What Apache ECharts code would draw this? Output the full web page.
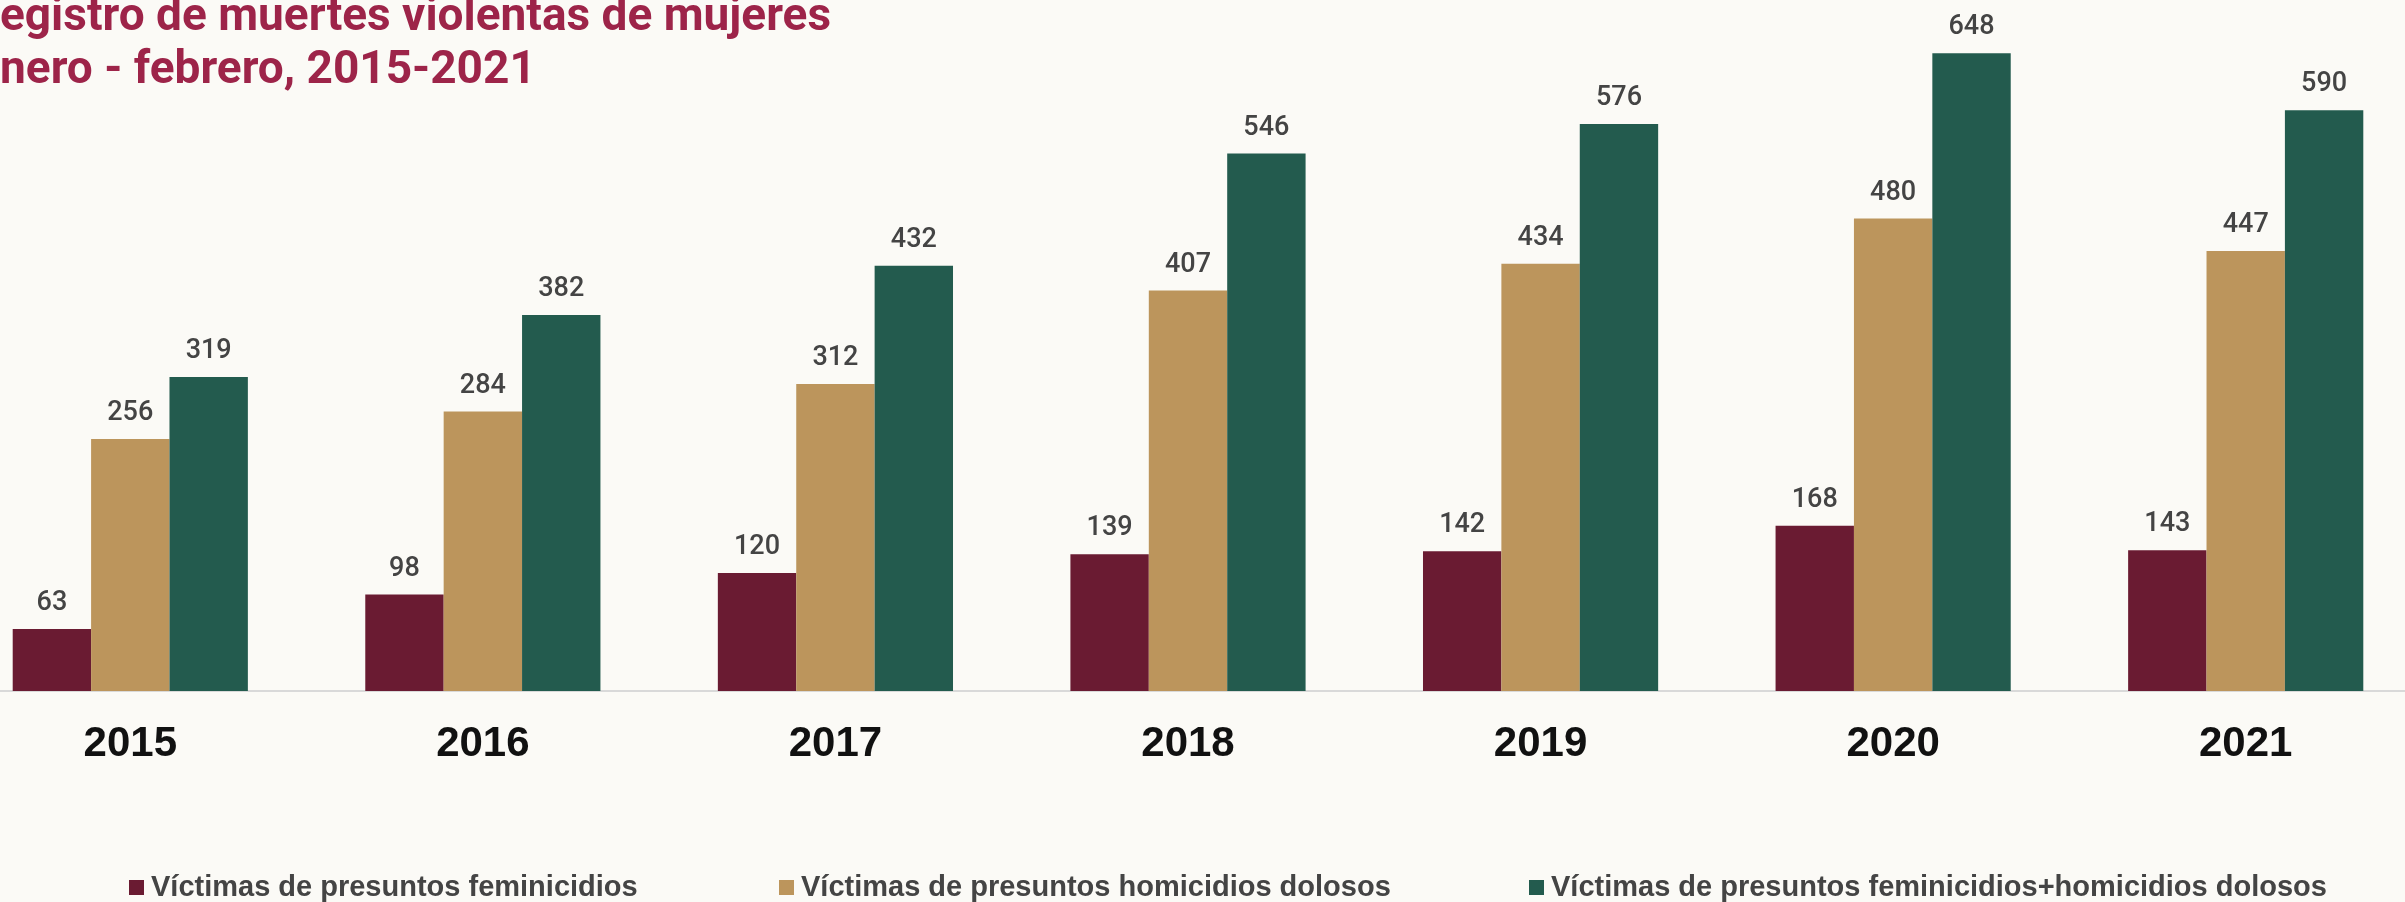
<!DOCTYPE html>
<html>
<head>
<meta charset="UTF-8">
<title>Muertes violentas de mujeres</title>
<style>
    html, body { margin: 0; padding: 0; overflow: hidden; background: #fbfaf6; }
    /* the slide crops the first category a little on the left, so the chart is shifted */
    #chartArea {
        position : absolute;
        top : 0;
        left : -46px;
        width : 2468px;
        height : 902px;
    }
</style>
</head>
<body>
<div id="chartArea"></div>
</body>
<script src="https://cdn.jsdelivr.net/npm/echarts@6/dist/echarts.min.js"></script>
<script>
var years = ['2015', '2016', '2017', '2018', '2019', '2020', '2021'];
var feminicidios = [63, 98, 120, 139, 142, 168, 143];
var homicidios = [256, 284, 312, 407, 434, 480, 447];
var total = [319, 382, 432, 546, 576, 648, 590];

var names = [
    'Víctimas de presuntos feminicidios',
    'Víctimas de presuntos homicidios dolosos',
    'Víctimas de presuntos feminicidios+homicidios dolosos'
];
var titleLines = ['Registro de muertes violentas de mujeres', 'enero - febrero, 2015-2021'];
var colors = ['#6a1b32', '#bc955c', '#235b4e'];

var shift = 46;
var titleFont = 'bold 46px Roboto';
var myChart = echarts.init(document.getElementById('chartArea'));

// the title is cut by the slide edge: its first letter falls just outside
var ctx = document.createElement('canvas').getContext('2d');
ctx.font = titleFont;
function firstLetterWidth(s) {
    return ctx.measureText(s.charAt(0)).width;
}

function barSeries(name, data, color) {
    return {
        name: name,
        type: 'bar',
        data: data,
        barGap: '0%',
        barCategoryGap: '33.3%',
        itemStyle: { color: color },
        label: {
            show: true,
            position: 'top',
            distance: 12,
            color: '#444444',
            fontFamily: 'Roboto',
            fontWeight: 500,
            fontSize: 27
        }
    };
}

function legendAt(left, name) {
    return {
        left: left + shift,
        top: 868,
        itemWidth: 15,
        itemHeight: 15,
        icon: 'rect',
        data: [name],
        selectedMode: false,
        textStyle: {
            color: '#444444',
            fontFamily: 'Liberation Sans',
            fontWeight: 'bold',
            fontSize: 29,
            padding: [0, 0, 0, 2]
        }
    };
}

myChart.setOption({
    backgroundColor: '#fbfaf6',
    animation: false,
    color: colors,
    graphic: [{
        type: 'text',
        left: shift - firstLetterWidth(titleLines[0]),
        top: -5,
        style: {
            text: titleLines[0],
            fill: '#9d2449',
            font: titleFont
        }
    }, {
        type: 'text',
        left: shift - firstLetterWidth(titleLines[1]),
        top: 48,
        style: {
            text: titleLines[1],
            fill: '#9d2449',
            font: titleFont
        }
    }],
    legend: [
        legendAt(124, names[0]),
        legendAt(774, names[1]),
        legendAt(1524, names[2])
    ],
    grid: {
        left: 0,
        right: 0,
        top: 0,
        bottom: 211
    },
    xAxis: {
        type: 'category',
        data: years,
        axisTick: { show: false },
        axisLine: { lineStyle: { color: '#d9d9d9', width: 2 } },
        axisLabel: {
            margin: 32,
            color: '#111111',
            fontFamily: 'Liberation Sans',
            fontWeight: 'bold',
            fontSize: 42
        }
    },
    yAxis: {
        type: 'value',
        min: 0,
        max: 702,
        show: false,
        splitLine: { show: false }
    },
    series: [
        barSeries(names[0], feminicidios, colors[0]),
        barSeries(names[1], homicidios, colors[1]),
        barSeries(names[2], total, colors[2])
    ]
});
</script>
</html>
